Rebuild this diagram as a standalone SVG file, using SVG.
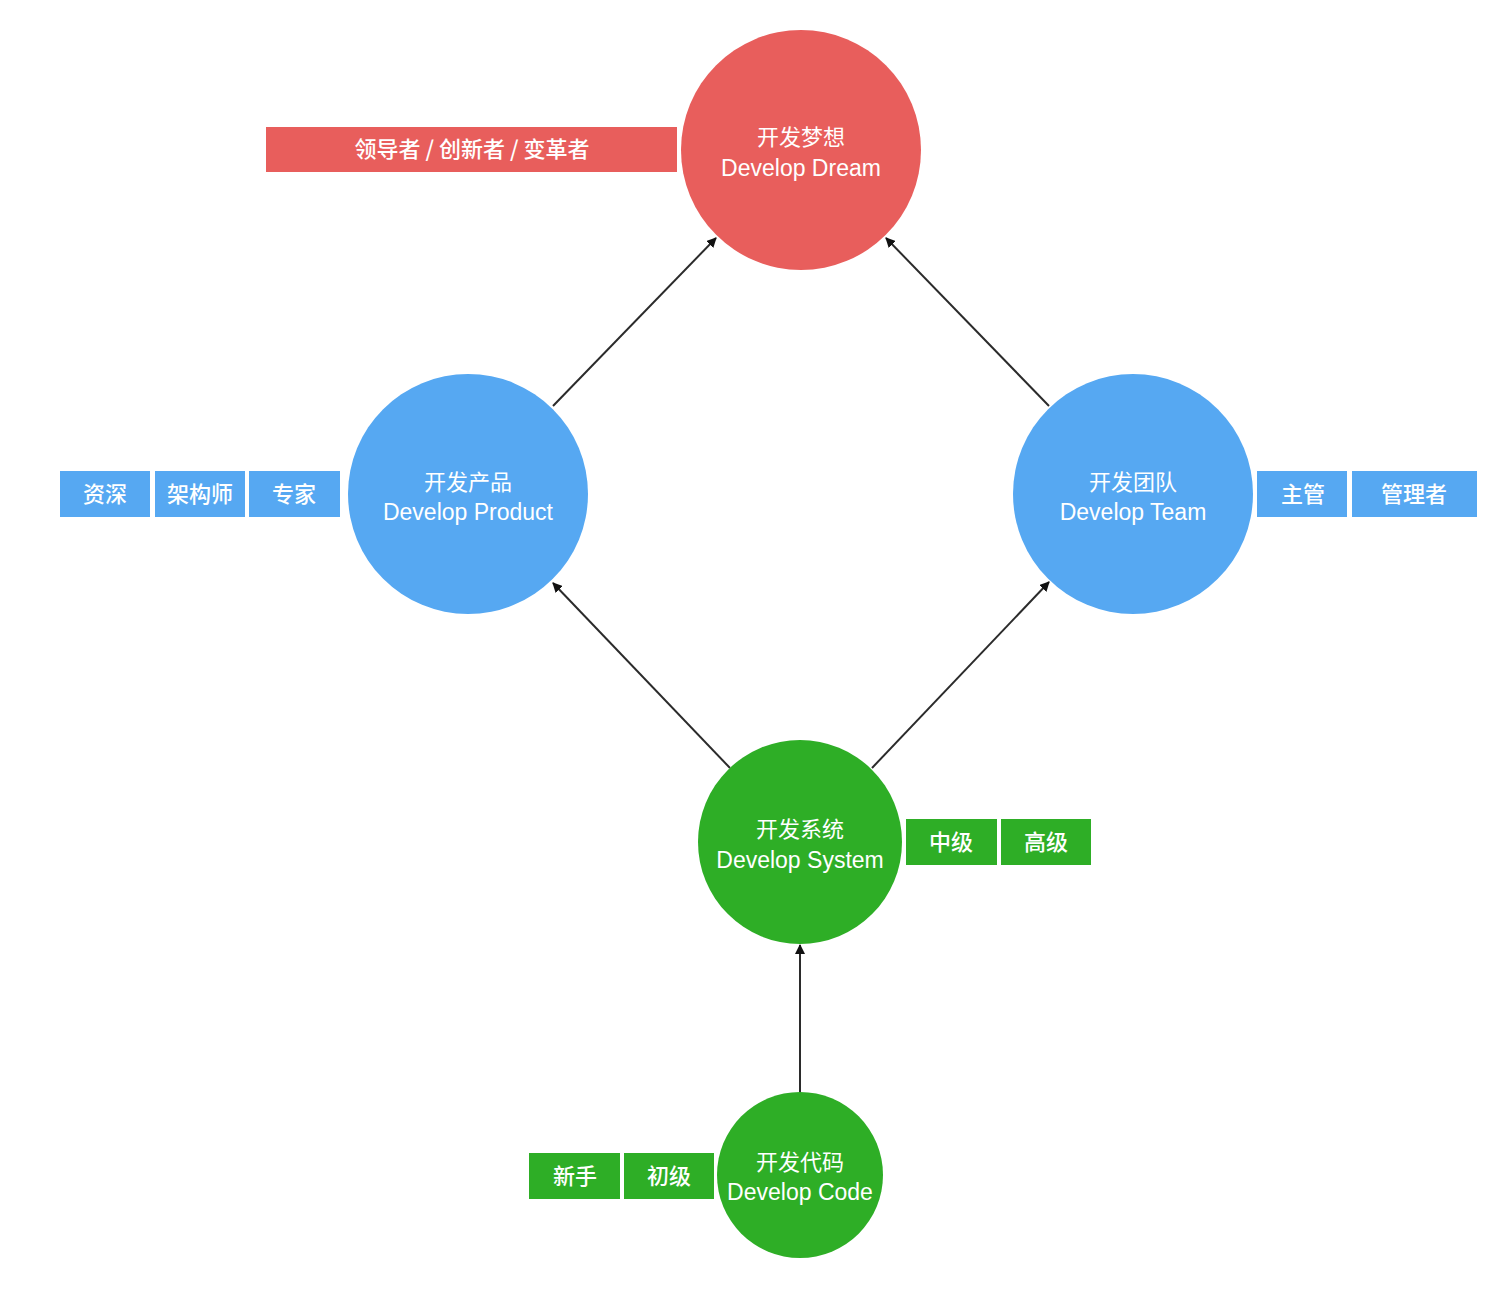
<svg xmlns="http://www.w3.org/2000/svg" width="1510" height="1304" viewBox="0 0 1510 1304">
<defs>
<style>
.red{fill:#E85E5C}
.blue{fill:#56A8F2}
.green{fill:#2EAE26}
.cn{font-family:"Noto Sans CJK SC",sans-serif;font-size:22px;font-weight:400;fill:#FFFFFF;text-anchor:middle}
.en{font-family:"Liberation Sans","Noto Sans CJK SC",sans-serif;font-size:23px;fill:#FFFFFF;text-anchor:middle}
.tb{font-family:"Noto Sans CJK SC",sans-serif;font-size:22px;font-weight:500;fill:#FFFFFF;text-anchor:middle}
.edge{stroke:#2b2b2b;stroke-width:2;fill:none;marker-end:url(#arr)}
</style>
<marker id="arr" markerWidth="10" markerHeight="10" refX="9" refY="5" orient="auto" markerUnits="userSpaceOnUse">
<path d="M0,0 L10,5 L0,10 Z" fill="#111"/>
</marker>
</defs>
<rect width="1510" height="1304" fill="#FFFFFF"/>
<g id="connectors">
<line class="edge" x1="553" y1="406" x2="716" y2="238"/>
<line class="edge" x1="1049" y1="406" x2="886" y2="238"/>
<line class="edge" x1="730" y1="768" x2="553" y2="583"/>
<line class="edge" x1="872" y1="768" x2="1049" y2="582"/>
<line class="edge" x1="800" y1="1092" x2="800" y2="945"/>
</g>
<g id="dream">
<circle class="red" cx="801" cy="150" r="120"/>
<text class="cn" x="801" y="145">开发梦想</text>
<text class="en" x="801" y="176">Develop Dream</text>
</g>
<g id="dream-roles">
<rect class="red" x="266" y="127" width="411" height="45"/>
<text class="tb" x="472" y="157">领导者 / 创新者 / 变革者</text>
</g>
<g id="product">
<circle class="blue" cx="468" cy="494" r="120"/>
<text class="cn" x="468" y="490">开发产品</text>
<text class="en" x="468" y="520">Develop Product</text>
</g>
<g id="product-roles">
<rect class="blue" x="60" y="471" width="90" height="46"/>
<rect class="blue" x="155" y="471" width="90" height="46"/>
<rect class="blue" x="249" y="471" width="91" height="46"/>
<text class="tb" x="105" y="502">资深</text>
<text class="tb" x="200" y="502">架构师</text>
<text class="tb" x="294" y="502">专家</text>
</g>
<g id="team">
<circle class="blue" cx="1133" cy="494" r="120"/>
<text class="cn" x="1133" y="490">开发团队</text>
<text class="en" x="1133" y="520">Develop Team</text>
</g>
<g id="team-roles">
<rect class="blue" x="1257" y="471" width="90" height="46"/>
<rect class="blue" x="1352" y="471" width="125" height="46"/>
<text class="tb" x="1303" y="502">主管</text>
<text class="tb" x="1414" y="502">管理者</text>
</g>
<g id="system">
<circle class="green" cx="800" cy="842" r="102"/>
<text class="cn" x="800" y="837">开发系统</text>
<text class="en" x="800" y="868">Develop System</text>
</g>
<g id="system-roles">
<rect class="green" x="906" y="819" width="91" height="46"/>
<rect class="green" x="1001" y="819" width="90" height="46"/>
<text class="tb" x="951" y="850">中级</text>
<text class="tb" x="1046" y="850">高级</text>
</g>
<g id="code">
<circle class="green" cx="800" cy="1175" r="83"/>
<text class="cn" x="800" y="1170">开发代码</text>
<text class="en" x="800" y="1200">Develop Code</text>
</g>
<g id="code-roles">
<rect class="green" x="529" y="1153" width="91" height="46"/>
<rect class="green" x="624" y="1153" width="90" height="46"/>
<text class="tb" x="575" y="1184">新手</text>
<text class="tb" x="669" y="1184">初级</text>
</g>
</svg>
